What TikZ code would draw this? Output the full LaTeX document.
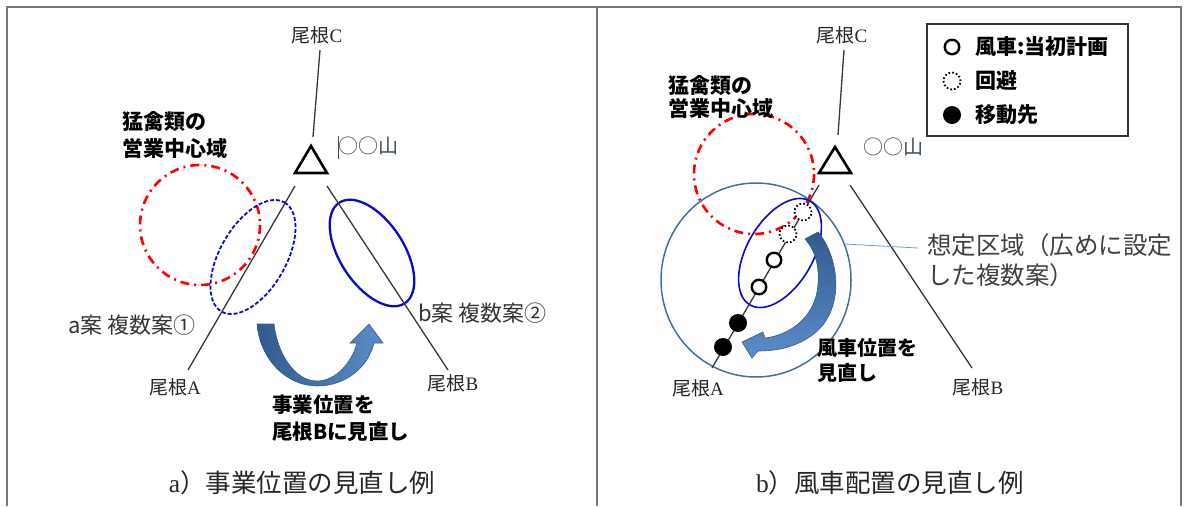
\documentclass[tikz,border=0pt]{standalone}
\usepackage{fontspec}
\newfontfamily\jp{Noto Sans CJK JP}
\newfontfamily\lat{Liberation Serif}
\usepackage[rgb]{xcolor}
\usepackage{tikz}
\usetikzlibrary{shapes.geometric}

\definecolor{framegray}{RGB}{118,118,118}
\definecolor{ridgegray}{RGB}{55,55,55}
\definecolor{planblue}{RGB}{10,10,200}
\definecolor{zoneblue}{RGB}{65,113,156}
\definecolor{leaderblue}{RGB}{100,160,215}
\definecolor{arrowdark}{RGB}{50,90,140}
\definecolor{arrowlight}{RGB}{92,140,202}
\definecolor{arrowedge}{RGB}{56,93,138}
\definecolor{peakgray}{RGB}{65,78,92}

\begin{document}
\begin{tikzpicture}[x=1pt, y=-1pt,
  ridge/.style={ridgegray, line width=1.3pt},
  ridgelbl/.style={font=\jp\fontsize{19}{21}\selectfont, text=black!85, inner sep=0pt},
  peaklbl/.style={font=\jp\fontsize{20}{22}\selectfont, text=peakgray, inner sep=0pt},
  peakmark/.style={black, line width=2.6pt, line join=miter},
  raptor/.style={red, line width=2.6pt, dash pattern=on 9pt off 5pt on 2pt off 5pt},
  boldlbl/.style={align=left, anchor=west, inner sep=0pt, text=black},
  planlbl/.style={font=\jp\fontsize{22}{24}\selectfont, text=black!80, anchor=west, inner sep=0pt},
  caption/.style={font=\jp\fontsize{25.5}{28}\selectfont, text=black!85, inner sep=0pt},
  movearrow/.style={draw=arrowedge, line width=0.6pt},
  turbine/.style={circle, draw=black, fill=white, line width=2.4pt, minimum size=14.5pt, inner sep=0pt},
  avoided/.style={circle, draw=black, fill=white, line width=1.8pt, dash pattern=on 1.6pt off 2.2pt, minimum size=17pt, inner sep=0pt},
  moved/.style={circle, fill=black, minimum size=18pt, inner sep=0pt},
  zone/.style={ellipse, draw=zoneblue, line width=1.5pt, inner sep=0pt},
  legendlbl/.style={font=\jp\bfseries\fontsize{21}{23}\selectfont, anchor=west, inner sep=0pt}
]
\useasboundingbox (0,0) rectangle (1188,506);

%% frame of the two panels
\draw[framegray, line width=2pt] (7,506) -- (7,6.5) -- (1181,6.5) -- (1181,506);
\draw[framegray, line width=2pt] (597,6.5) -- (597,506);

%% a) left panel
\coordinate (aCtop) at (320,50);
\coordinate (aCbot) at (313,137);
\coordinate (aAtop) at (295,186);
\coordinate (aAbot) at (188,370);
\coordinate (aBtop) at (327,186);
\coordinate (aBbot) at (448,370);

\draw[raptor] (200,225) circle (60);
\draw[planblue, line width=1.8pt, dash pattern=on 4pt off 2pt, rotate around={60:(253,257)}]
 (253,257) ellipse [x radius=63, y radius=33];
\draw[planblue, line width=2.3pt, rotate around={-57:(372,253)}]
 (372,253) ellipse [x radius=60, y radius=32];

\draw[ridge] (aCtop) -- (aCbot);
\draw[ridge] (aAtop) -- (aAbot);
\draw[ridge] (aBtop) -- (aBbot);
\draw[peakmark] (311,146) -- (327,173) -- (295,173) -- cycle;

\path
(317,35) node[ridgelbl](aC){尾根{\lat C}}
(175,387) node[ridgelbl](aA){尾根{\lat A}}
(453,383) node[ridgelbl](aB){尾根{\lat B}}
(368,147) node[peaklbl](aPeak){\rule[-0.25em]{1.2pt}{1.15em}\kern-1.2pt○○山}
(122,135) node[boldlbl, font=\jp\bfseries\fontsize{21}{26.5}\selectfont](aRaptor){猛禽類の\\営業中心域}
(68,325) node[planlbl](aPlan){a案 複数案①}
(418,313) node[planlbl](bPlan){b案 複数案②}
(272,418) node[boldlbl, font=\jp\bfseries\fontsize{20.5}{27}\selectfont](aMove){事業位置を\\尾根Bに見直し}
(302,483) node[caption](aCap){{\lat a}）事業位置の見直し例};

%% curved arrow from ridge A to ridge B
\path[movearrow, left color=arrowdark, right color=arrowlight]
 (257,324) -- (274,324) .. controls (277,352) and (294,381) .. (317,381)
 .. controls (336,381) and (352,362) .. (357,343) -- (350,343) -- (369,324) -- (383,343)
 -- (374,343) .. controls (368,368) and (345,386) .. (317,386)
 .. controls (287,386) and (260,360) .. (257,324) -- cycle;

%% b) right panel
\coordinate (bCtop) at (844,50);
\coordinate (bCbot) at (838,135);
\coordinate (bAtop) at (819,185);
\coordinate (bAbot) at (712,368);
\coordinate (bBtop) at (850,185);
\coordinate (bBbot) at (972,368);
\coordinate (zoneTip) at (918,248);

\draw[raptor] (754,174) circle (60);
\node[zone, minimum width=190pt, minimum height=194pt] (zone) at (756,280) {};
\draw[planblue, line width=1.6pt, rotate around={60:(780,253)}]
 (780,253) ellipse [x radius=60, y radius=33];

\draw[ridge] (bCtop) -- (bCbot);
\draw[ridge] (bAtop) -- (bAbot);
\draw[ridge] (bBtop) -- (bBbot);
\draw[peakmark] (835,147) -- (851,173) -- (819,173) -- cycle;

%% turbines along ridge A
\node[avoided] (t1) at (803,212) {};
\node[avoided] (t2) at (788,234) {};
\node[turbine] (t3) at (774,260) {};
\node[turbine] (t4) at (759,287) {};
\node[moved] (t5) at (738,323) {};
\node[moved] (t6) at (723,347) {};

%% curved arrow down along the zone
\path[movearrow, top color=arrowdark, bottom color=arrowlight]
 (818,232) .. controls (840,258) and (846,312) .. (811,336)
 .. controls (794,348) and (775,351) .. (758,351) -- (752,358) -- (742,342) -- (763,332)
 -- (765,338) .. controls (790,335) and (812,318) .. (817,292)
 .. controls (821,268) and (815,250) .. (805,239) -- cycle;

\draw[leaderblue, line width=0.8pt] (zone.22) -- (zoneTip);

\path
(842,35) node[ridgelbl](bC){尾根{\lat C}}
(698,388) node[ridgelbl](bA){尾根{\lat A}}
(978,387) node[ridgelbl](bB){尾根{\lat B}}
(893,147) node[peaklbl](bPeak){○○山}
(668,97) node[boldlbl, font=\jp\bfseries\fontsize{21}{23.5}\selectfont](bRaptor){猛禽類の\\営業中心域}
(927,260) node[boldlbl, font=\jp\fontsize{24.5}{30}\selectfont, text=black!75](zoneTxt){想定区域（広めに設定\\した複数案）}
(817,360) node[boldlbl, font=\jp\bfseries\fontsize{20}{25}\selectfont](bMove){風車位置を\\見直し}
(890,483) node[caption](bCap){{\lat b}）風車配置の見直し例};

%% legend
\draw[black!80, line width=1.3pt, fill=white] (927,24) rectangle (1128,136);
\node[turbine] (lgPlan) at (952,47) {};
\node[avoided] (lgAvoid) at (952,81) {};
\node[moved] (lgMoved) at (952,115) {};
\path
(975,47) node[legendlbl](lgPlanTxt){風車:当初計画}
(975,81) node[legendlbl](lgAvoidTxt){回避}
(975,115) node[legendlbl](lgMovedTxt){移動先};

\end{tikzpicture}
\end{document}
